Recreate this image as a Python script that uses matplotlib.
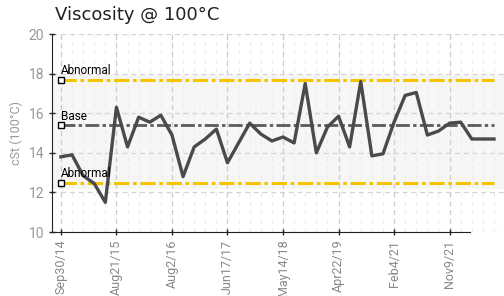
import matplotlib.pyplot as plt
import numpy as np
from matplotlib.ticker import MultipleLocator

# sample values, cSt at 100C
visc = [13.8, 13.9, 12.85, 12.45, 11.5, 16.3, 14.3, 15.8, 15.55, 15.9,
        14.9, 12.8, 14.3, 14.7, 15.2, 13.5, 14.5, 15.5, 14.95, 14.6,
        14.8, 14.5, 17.5, 14.0, 15.3, 15.85, 14.3, 17.6, 13.85, 13.95,
        15.55, 16.9, 17.05, 14.9, 15.1, 15.5, 15.55, 14.7, 14.7, 14.7]
tick_pos = [0, 5, 10, 15, 20, 25, 30, 35]
tick_labels = ['Sep30/14', 'Aug21/15', 'Aug2/16', 'Jun17/17',
               'May14/18', 'Apr22/19', 'Feb4/21', 'Nov9/21']
upper_abn = 17.7
base = 15.4
lower_abn = 12.5
band = (12.22, 17.95)

cond = ['Liberation Sans Narrow', 'Roboto', 'DejaVu Sans']

fig = plt.figure(figsize=(5.04, 2.96), dpi=100)
ax = fig.add_axes([0.103, 0.216, 0.897, 0.669])

x = np.arange(len(visc))
ax.set_xlim(-0.81, 39.9)
ax.set_ylim(10, 20)

ax.axhspan(band[0], band[1], color='#f6f6f6', zorder=0)

# grid
for i in x:
    ax.axvline(i, color='#ececec', lw=0.8, ls=(0, (4, 4)), zorder=1)
for t in tick_pos:
    ax.axvline(t, color='#cccccc', lw=0.9, ls=(0, (4, 3)), zorder=1)
for v in range(10, 21, 2):
    ax.axhline(v, color='#d4d4d4', lw=0.9, ls=(0, (4, 3)), zorder=1)

dd = (0, (5, 1.2, 1.2, 1.2))
xs = [0, len(visc) - 1]
ax.plot(xs, [upper_abn] * 2, color='#f5c400', lw=2.2, ls=dd, zorder=2)
ax.plot(xs, [lower_abn] * 2, color='#f5c400', lw=2.2, ls=dd, zorder=2)
ax.plot(xs, [base] * 2, color='#5a5a5a', lw=2.0, ls=dd, zorder=2)

ax.plot(x, visc, color='#4a4a4a', lw=2.4, zorder=3)

for yv, lab in [(upper_abn, 'Abnormal'), (base, 'Base'), (lower_abn, 'Abnormal')]:
    ax.plot([0], [yv], marker='s', ms=4, mfc='white', mec='black', mew=1.0, zorder=4)
    ax.text(0, yv + 0.12, lab, family=cond, fontsize=8.5, color='black',
            ha='left', va='bottom', zorder=5)

ax.set_xticks(tick_pos)
ax.set_xticklabels(tick_labels, rotation=90, family=cond, fontsize=9, color='#888888')
ax.yaxis.set_major_locator(MultipleLocator(2))
for lbl in ax.get_yticklabels():
    lbl.set_family(cond)
    lbl.set_fontsize(10)
    lbl.set_color('#999999')
ax.tick_params(direction='inout', length=5, width=1, color='#222222', pad=3)

for s in ['top', 'right']:
    ax.spines[s].set_visible(False)
ax.spines['bottom'].set_bounds(-0.81, 36.8)
ax.spines['left'].set_color('#222222')
ax.spines['bottom'].set_color('#222222')

ax.set_ylabel('cSt (100°C)', family=cond, fontsize=9, color='#999999', labelpad=4)
fig.text(0.11, 0.95, 'Viscosity @ 100°C', fontsize=13, color='#222222',
         ha='left', va='center', family='DejaVu Sans')

fig.savefig('out.png', dpi=100)
